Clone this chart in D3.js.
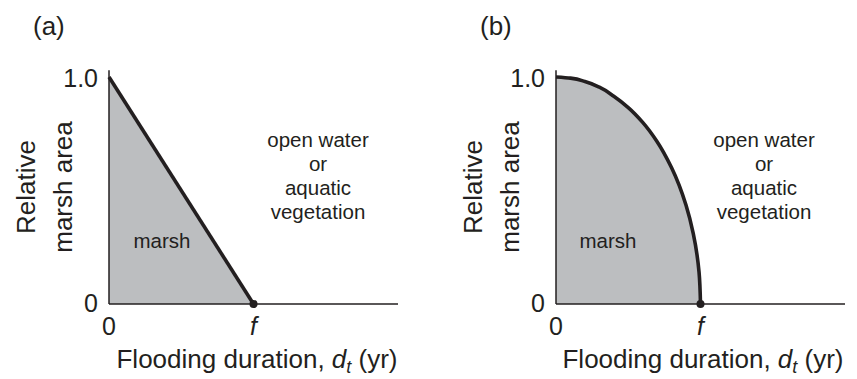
<!DOCTYPE html>
<html>
<head>
<meta charset="utf-8">
<script src="https://cdn.jsdelivr.net/npm/d3@7"></script>
<style>
  body { margin: 0; background: #fff; }
  text { font-family: "Liberation Sans", Arial, sans-serif; fill: #231f20; }
</style>
</head>
<body>
<svg id="chart" width="857" height="379"></svg>
<script>
// ---- data (x in units of f, y = relative marsh area) ----
const linearX = [0, 1];
const linearY = [1, 0];
const curveX = [0, 0.1, 0.2, 0.3, 0.4, 0.5, 0.6, 0.7, 0.8, 0.9, 0.95, 0.99, 1];
const curveY = [1, 0.995, 0.98, 0.955, 0.915, 0.865, 0.8, 0.715, 0.6, 0.435, 0.31, 0.14, 0];
const xTicks = [0, 1];
const xTickLabels = ["0", "f"];
const yTicks = [0, 1];
const yTickLabels = ["0", "1.0"];
const regionLabels = ["open water", "or", "aquatic", "vegetation"];
const panelLabels = ["(a)", "(b)"];

const svg = d3.select("#chart");
const ink = "#231f20";

const panels = [
  { left: 109, label: panelLabels[0], xs: linearX, ys: linearY, curve: d3.curveLinear, labX: 33, titleX: 257, openX: 318, marshX: 162, relX: 35, areaX: 72 },
  { left: 556, label: panelLabels[1], xs: curveX, ys: curveY, curve: d3.curveMonotoneY, labX: 480, titleX: 703, openX: 764, marshX: 608, relX: 482, areaX: 519 }
];

panels.forEach(p => {
  const x = d3.scaleLinear().domain([0, 2]).range([p.left, p.left + 289]);
  const y = d3.scaleLinear().domain([0, 1]).range([304, 77]);
  const g = svg.append("g");
  const pts = p.xs.map((v, i) => [v, p.ys[i]]);

  // shaded marsh area
  g.append("path")
    .attr("d", d3.area().x(d => x(d[0])).y0(y(0)).y1(d => y(d[1])).curve(p.curve)(pts))
    .attr("fill", "#bcbec0");

  // axes
  g.append("line").attr("x1", x(0)).attr("x2", x(0)).attr("y1", y(1.03)).attr("y2", y(0))
    .attr("stroke", ink).attr("stroke-width", 1.5);
  g.append("line").attr("x1", x(0)).attr("x2", x(2)).attr("y1", y(0)).attr("y2", y(0))
    .attr("stroke", ink).attr("stroke-width", 1.5);

  // marsh boundary
  g.append("path")
    .attr("d", d3.line().x(d => x(d[0])).y(d => y(d[1])).curve(p.curve)(pts))
    .attr("fill", "none").attr("stroke", ink).attr("stroke-width", 3.6);

  g.append("circle").attr("cx", x(1)).attr("cy", y(0)).attr("r", 4).attr("fill", ink);

  // tick labels
  g.selectAll(".yt").data(yTicks).join("text")
    .attr("x", x(0) - 11).attr("y", d => y(d) + (d === 0 ? 8 : 10))
    .attr("text-anchor", "end").attr("font-size", 25)
    .text((d, i) => yTickLabels[i]);
  g.selectAll(".xt").data(xTicks).join("text")
    .attr("x", d => x(d)).attr("y", 335)
    .attr("text-anchor", "middle").attr("font-size", 25)
    .attr("font-style", (d, i) => i === 1 ? "italic" : null)
    .text((d, i) => xTickLabels[i]);

  // x axis title
  const t = g.append("text").attr("x", p.titleX).attr("y", 368)
    .attr("text-anchor", "middle").attr("font-size", 26);
  t.append("tspan").text("Flooding duration, ");
  t.append("tspan").attr("font-style", "italic").text("d");
  t.append("tspan").attr("font-style", "italic").attr("font-size", 18).attr("dy", 5).text("t");
  t.append("tspan").attr("dy", -5).text(" (yr)");

  // y axis title
  g.append("text").attr("transform", `translate(${p.relX},187) rotate(-90)`)
    .attr("text-anchor", "middle").attr("font-size", 26).text("Relative");
  g.append("text").attr("transform", `translate(${p.areaX},187) rotate(-90)`)
    .attr("text-anchor", "middle").attr("font-size", 26).text("marsh area");

  // region labels
  g.selectAll(".ow").data(regionLabels).join("text")
    .attr("x", p.openX).attr("y", (d, i) => 147 + i * 24)
    .attr("text-anchor", "middle").attr("font-size", 20.5).text(d => d);
  g.append("text").attr("x", p.marshX).attr("y", 248)
    .attr("text-anchor", "middle").attr("font-size", 20.5).text("marsh");

  // panel label
  g.append("text").attr("x", p.labX).attr("y", 35).attr("font-size", 26).text(p.label);
});
</script>
</body>
</html>
